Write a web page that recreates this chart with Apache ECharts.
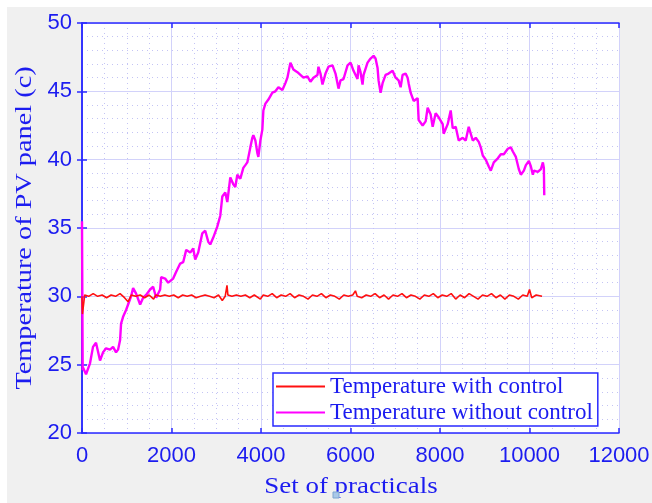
<!DOCTYPE html>
<html><head><meta charset="utf-8">
<script src="https://cdn.jsdelivr.net/npm/echarts@6/dist/echarts.min.js"></script>
<style>html,body{margin:0;padding:0;background:#fff}#c{width:652px;height:503px}</style>
</head><body><div id="c"></div>
<script>
const xTicks = [0, 2000, 4000, 6000, 8000, 10000, 12000];
const yTicks = [20, 25, 30, 35, 40, 45, 50];
const seriesNames = ['Temperature with control', 'Temperature without control'];
const xTitle = 'Set of practicals';
const yTitle = 'Temperature of PV panel (c)';
// [set of practicals, temperature]
const withControl = [[0,30.0],[10,28.7],[45,28.8],[60,30.1],[150,30.0],[250,30.2],[350,30.0],[450,30.1],[550,29.9],[650,30.1],[750,30.0],[850,30.2],[950,29.9],[1030,29.6],[1100,30.1],[1200,30.0],[1300,30.1],[1400,29.9],[1500,30.1],[1600,29.8],[1650,30.1],[1750,30.0],[1850,30.1],[1950,30.0],[2050,30.1],[2150,29.9],[2250,30.1],[2350,30.0],[2450,30.1],[2550,29.9],[2650,30.0],[2750,30.1],[2850,30.0],[2950,29.9],[3050,30.1],[3135,29.7],[3200,30.0],[3240,30.8],[3260,30.1],[3350,30.0],[3450,30.1],[3550,30.0],[3650,30.1],[3750,29.9],[3850,30.1],[3986,29.8],[4050,30.1],[4150,30.0],[4250,30.2],[4350,29.9],[4450,30.1],[4550,30.0],[4650,30.2],[4750,29.9],[4850,30.1],[4950,30.0],[5050,29.8],[5150,30.1],[5250,30.0],[5350,30.2],[5450,29.9],[5550,30.1],[5650,30.0],[5750,29.8],[5850,30.1],[5950,30.0],[6050,30.1],[6110,30.4],[6150,30.0],[6250,29.9],[6350,30.1],[6450,30.0],[6550,30.2],[6650,29.9],[6750,30.1],[6850,29.8],[6950,30.1],[7050,30.0],[7150,30.2],[7250,29.9],[7350,30.1],[7450,30.0],[7550,29.8],[7650,30.1],[7750,30.0],[7850,30.2],[7950,29.9],[8050,30.1],[8150,30.0],[8250,30.2],[8350,29.8],[8450,30.1],[8550,29.9],[8650,30.2],[8750,30.0],[8850,29.8],[8950,30.1],[9050,30.0],[9150,30.2],[9250,29.9],[9350,30.1],[9450,29.8],[9550,30.1],[9650,30.0],[9750,29.8],[9850,30.1],[9950,30.0],[10000,30.5],[10050,29.9],[10150,30.1],[10280,30.0]];
const withoutControl = [[0,35.5],[15,24.6],[22,24.8],[90,24.3],[179,25.1],[246,26.3],[313,26.6],[403,25.3],[470,25.9],[537,26.2],[627,26.1],[694,26.3],[761,25.9],[806,26.1],[851,26.8],[873,28.0],[918,28.5],[985,29.0],[1030,29.4],[1097,30.0],[1142,30.6],[1209,30.2],[1299,29.4],[1366,29.9],[1433,30.1],[1522,30.5],[1590,30.7],[1657,29.9],[1746,30.5],[1769,31.4],[1858,31.3],[1926,31.0],[2037,31.3],[2105,31.8],[2194,32.4],[2261,32.5],[2329,33.4],[2418,33.2],[2485,33.5],[2530,32.7],[2597,33.2],[2687,34.6],[2754,34.8],[2821,34.0],[2866,33.8],[2933,34.3],[3023,35.1],[3090,35.9],[3135,37.3],[3202,37.6],[3247,36.9],[3314,38.7],[3381,38.2],[3426,38.0],[3471,38.9],[3538,38.6],[3605,39.4],[3650,39.6],[3694,39.8],[3762,40.9],[3806,41.6],[3829,41.8],[3874,41.4],[3918,40.5],[3941,40.2],[3986,41.4],[4030,42.2],[4053,43.6],[4098,44.1],[4165,44.4],[4254,44.9],[4321,45.0],[4389,45.3],[4478,45.1],[4545,45.6],[4590,46.0],[4657,47.1],[4724,46.6],[4814,46.4],[4881,46.2],[4948,46.0],[5038,46.1],[5105,45.7],[5172,46.0],[5262,46.2],[5284,46.8],[5329,46.3],[5374,45.5],[5441,46.3],[5508,46.8],[5598,46.9],[5665,46.3],[5732,45.2],[5777,45.8],[5844,45.9],[5934,46.9],[6001,47.1],[6068,46.5],[6157,45.9],[6180,46.9],[6224,46.4],[6269,45.5],[6292,46.2],[6381,47.1],[6448,47.4],[6515,47.6],[6560,47.4],[6605,46.7],[6627,45.8],[6672,44.9],[6717,45.6],[6784,46.2],[6851,46.3],[6941,46.5],[7008,46.0],[7075,45.8],[7120,45.3],[7164,46.2],[7232,46.3],[7276,46.0],[7299,45.6],[7344,44.9],[7411,44.3],[7500,44.5],[7523,42.9],[7612,42.5],[7679,42.8],[7724,43.8],[7792,43.3],[7836,42.4],[7903,43.4],[7970,43.1],[8060,42.6],[8082,41.9],[8172,42.6],[8239,43.6],[8284,42.3],[8351,42.4],[8418,41.4],[8508,41.6],[8575,41.4],[8642,42.4],[8732,41.4],[8799,41.6],[8866,41.3],[8911,40.9],[8956,40.3],[9023,40.0],[9090,39.5],[9135,39.2],[9202,39.8],[9292,40.1],[9359,40.4],[9426,40.4],[9516,40.8],[9583,40.9],[9628,40.6],[9695,40.2],[9762,39.3],[9807,38.9],[9874,39.2],[9919,39.6],[9986,39.9],[10031,39.5],[10075,38.9],[10098,39.2],[10187,39.1],[10254,39.3],[10299,39.8],[10321,39.4],[10330,37.4]];

const blue = '#2a2aff';
const labelBlue = '#1c1cf0';
const chart = echarts.init(document.getElementById('c'), null, {renderer: 'canvas'});
const sans = 'Liberation Sans';
const serif = 'Liberation Serif';
function axisBase(pos, isX, showLabel) {
  const ticks = isX ? xTicks : yTicks;
  return {
    type: 'value', position: pos,
    min: ticks[0], max: ticks[ticks.length - 1], interval: ticks[1] - ticks[0],
    axisLine: {show: true, lineStyle: {color: blue, width: 1.5}},
    axisTick: {show: true, inside: true, length: 5, lineStyle: {color: blue, width: 1.5}},
    axisLabel: {show: showLabel, color: labelBlue, fontFamily: sans, fontSize: 22, margin: isX ? 12 : 10,
      formatter: v => String(v)},
    splitLine: {show: showLabel, lineStyle: {color: '#d2d2fa', width: 1}},
    minorTick: {show: false, splitNumber: isX ? 4 : 5},
    minorSplitLine: {show: showLabel, lineStyle: {color: '#c4c4f4', width: 1, type: [1, 4]}}
  };
}
chart.setOption({
  animation: false,
  graphic: [
    {type: 'rect', shape: {x: 7, y: 7, width: 645, height: 496}, style: {fill: '#f0f0f0'}, z: -10, silent: true},
    {type: 'text', x: 351, y: 487, scaleX: 1.17, style: {text: xTitle, font: '23px "Liberation Serif"', fill: labelBlue, align: 'center', verticalAlign: 'middle'}, z: 5},
    {type: 'text', x: 25, y: 228, rotation: Math.PI / 2, scaleX: 1.23, style: {text: yTitle, font: '23px "Liberation Serif"', fill: labelBlue, align: 'center', verticalAlign: 'middle'}, z: 5},
    {type: 'rect', shape: {x: 333, y: 492, width: 6, height: 6}, style: {fill: '#a9c8e8', stroke: '#7fa6d0', lineWidth: 1}, z: 10}
  ],
  grid: {left: 82, right: 33, top: 23, bottom: 70, outerBoundsMode: 'none', containLabel: false,
    show: true, backgroundColor: '#ffffff', borderColor: blue, borderWidth: 0},
  xAxis: [axisBase('bottom', true, true), axisBase('top', true, false)],
  yAxis: [axisBase('left', false, true), axisBase('right', false, false)],
  legend: {
    left: 273, top: 373, orient: 'vertical',
    backgroundColor: '#ffffff', borderColor: blue, borderWidth: 1.5,
    padding: [2, 5, 2, 3], itemGap: 3,
    itemWidth: 49, itemHeight: 2, icon: 'rect',
    textStyle: {fontFamily: serif, fontSize: 23, color: labelBlue},
    data: seriesNames
  },
  series: [
    {name: seriesNames[0], type: 'line', data: withControl, showSymbol: false, symbol: 'none',
     lineStyle: {color: '#ff1010', width: 1.6}, itemStyle: {color: '#ff1010'}, z: 3},
    {name: seriesNames[1], type: 'line', data: withoutControl, showSymbol: false, symbol: 'none',
     lineStyle: {color: '#ff00ff', width: 2.4}, itemStyle: {color: '#ff00ff'}, z: 2}
  ]
});
</script></body></html>
